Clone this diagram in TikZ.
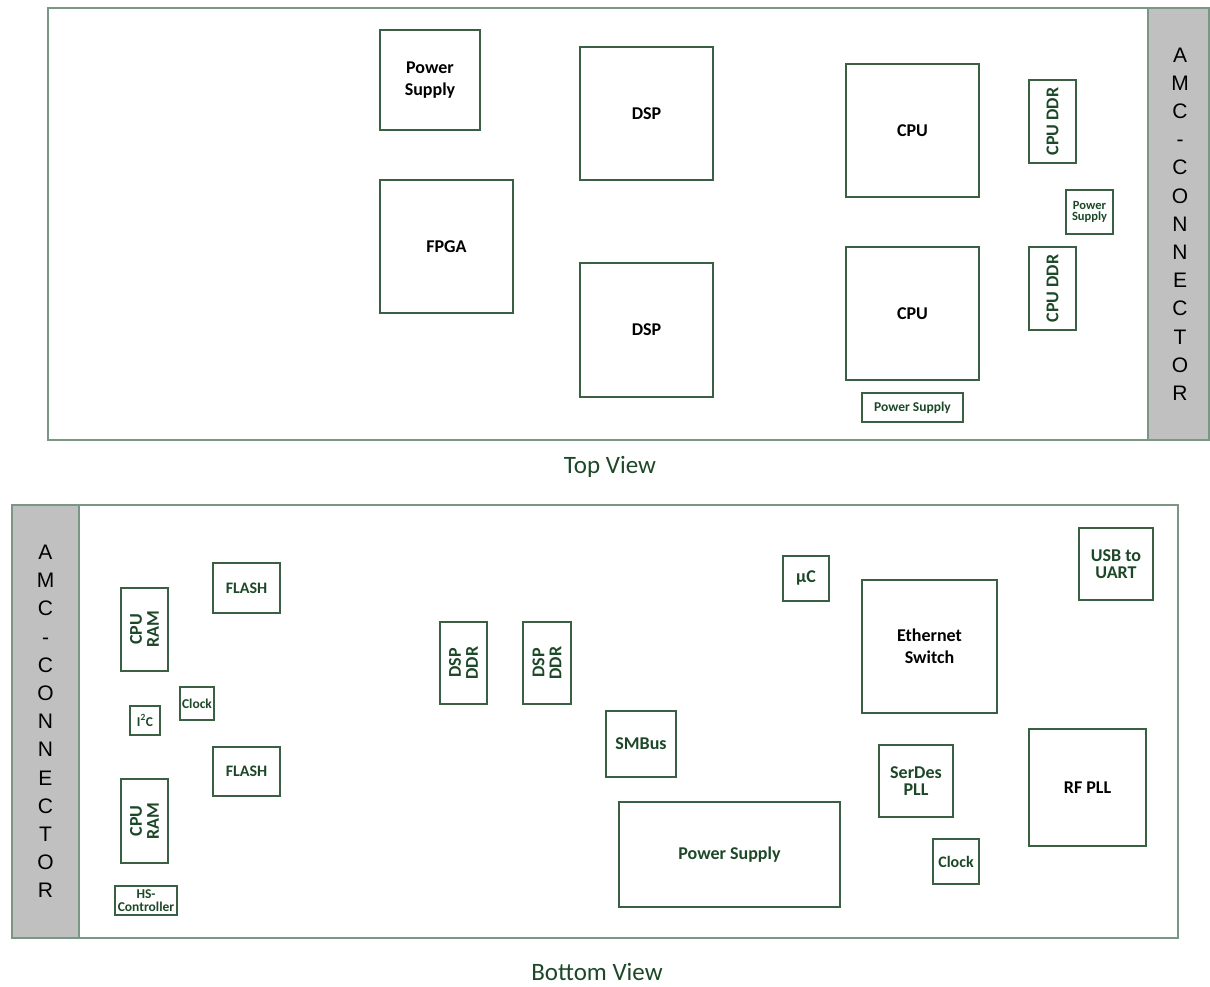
\documentclass[tikz,border=0pt]{standalone}
\usepackage{fontspec}
\setmainfont{Carlito}
\newfontfamily\connfont{Liberation Sans}
\usetikzlibrary{positioning}

\definecolor{boardline}{RGB}{122,150,132}
\definecolor{chipline}{RGB}{58,96,68}
\definecolor{chiptext}{RGB}{28,72,40}
\definecolor{connfill}{RGB}{192,192,192}

\tikzset{
  chip/.style 2 args={draw=chipline, line width=1.1pt, inner sep=0pt, align=center,
    minimum width=#1pt, minimum height=#2pt, text=chiptext,
    font=\bfseries\fontsize{18}{17}\selectfont},
  blacktext/.style={text=black, font=\bfseries\fontsize{18}{22}\selectfont},
  smalltext/.style={font=\bfseries\fontsize{13.5}{12.5}\selectfont},
  midtext/.style={font=\bfseries\fontsize{16}{15}\selectfont},
  board/.style={draw=boardline, line width=1.4pt},
  connector/.style={draw=boardline, fill=connfill, line width=1.4pt},
  conntext/.style={font=\connfont\fontsize{21}{28.2}\selectfont, align=center, inner sep=0pt},
  viewtitle/.style={font=\fontsize{25}{25}\selectfont, text=chiptext, inner sep=0pt}
}

\begin{document}
\begin{tikzpicture}[x=1pt, y=-1pt]
    \useasboundingbox (0,0) rectangle (1210,987);

    % Top view -- board and connector
    \draw[board] (48,8) rectangle (1209,440);
    \draw[connector] (1148,8) rectangle (1209,440);
    \node[conntext] (conntop) at (1180,224) {A\\M\\C\\-\\C\\O\\N\\N\\E\\C\\T\\O\\R};

    \node[chip={100}{100}, blacktext] (pwrA) at (430,80) {Power\\Supply};
    \node[chip={133}{133}, blacktext] (fpga) at (446.5,246.5) {FPGA};
    \node[chip={133}{133}, blacktext] (dspA) at (646.5,113.5) {DSP};
    \node[chip={133}{134}, blacktext] (dspB) at (646.5,330) {DSP};
    \node[chip={133}{133}, blacktext] (cpuA) at (912.5,130.5) {CPU};
    \node[chip={133}{133}, blacktext] (cpuB) at (912.5,313.5) {CPU};
    \node[chip={83}{47}, rotate=90] (cpuddrA) at (1052.5,121.5) {CPU DDR};
    \node[chip={83}{47}, rotate=90] (cpuddrB) at (1052.5,288.5) {CPU DDR};
    \node[chip={47}{44}, font=\bfseries\fontsize{12.5}{11.5}\selectfont] (pwrB) at (1089.5,212) {Power\\Supply};
    \node[chip={101}{29}, smalltext] (pwrC) at (912.5,407.5) {Power Supply};

    \node[viewtitle] (toptitle) at (610,467) {Top View};

    % Bottom view -- board and connector
    \draw[board] (12,505) rectangle (1178,938);
    \draw[connector] (12,505) rectangle (79,938);
    \node[conntext] (connbot) at (45.5,721.5) {A\\M\\C\\-\\C\\O\\N\\N\\E\\C\\T\\O\\R};

    \node[chip={83}{47}, rotate=90] (cpuramA) at (144.5,629.5) {CPU\\RAM};
    \node[chip={84}{47}, rotate=90] (cpuramB) at (144.5,821) {CPU\\RAM};
    \node[chip={67}{50}, midtext] (flashA) at (246.5,588) {FLASH};
    \node[chip={67}{49}, midtext] (flashB) at (246.5,771.5) {FLASH};
    \node[chip={34}{33}, smalltext] (clockA) at (197,703.5) {Clock};
    \node[chip={30}{29}, smalltext] (iic) at (145,720.5) {I\textsuperscript{2}C};
    \node[chip={62}{29}, smalltext] (hsctrl) at (146,900.5) {HS-\\Controller};
    \node[chip={82}{47}, rotate=90] (dspddrA) at (463.5,663) {DSP\\DDR};
    \node[chip={82}{48}, rotate=90] (dspddrB) at (547,663) {DSP\\DDR};
    \node[chip={70}{66}] (smbus) at (641,744) {SMBus};
    \node[chip={221}{105}] (pwrD) at (729.5,854.5) {Power Supply};
    \node[chip={46}{45}] (uc) at (806,578.5) {µC};
    \node[chip={135}{133}, blacktext] (ethsw) at (929.5,646.5) {Ethernet\\Switch};
    \node[chip={74}{72}] (usbuart) at (1116,564) {USB to\\UART};
    \node[chip={74}{72}] (serdes) at (916,781) {SerDes\\PLL};
    \node[chip={46}{45}, midtext] (clockB) at (956,861.5) {Clock};
    \node[chip={117}{117}, blacktext] (rfpll) at (1087.5,787.5) {RF PLL};

    \node[viewtitle] (bottitle) at (597,972) {Bottom View};
\end{tikzpicture}
\end{document}
